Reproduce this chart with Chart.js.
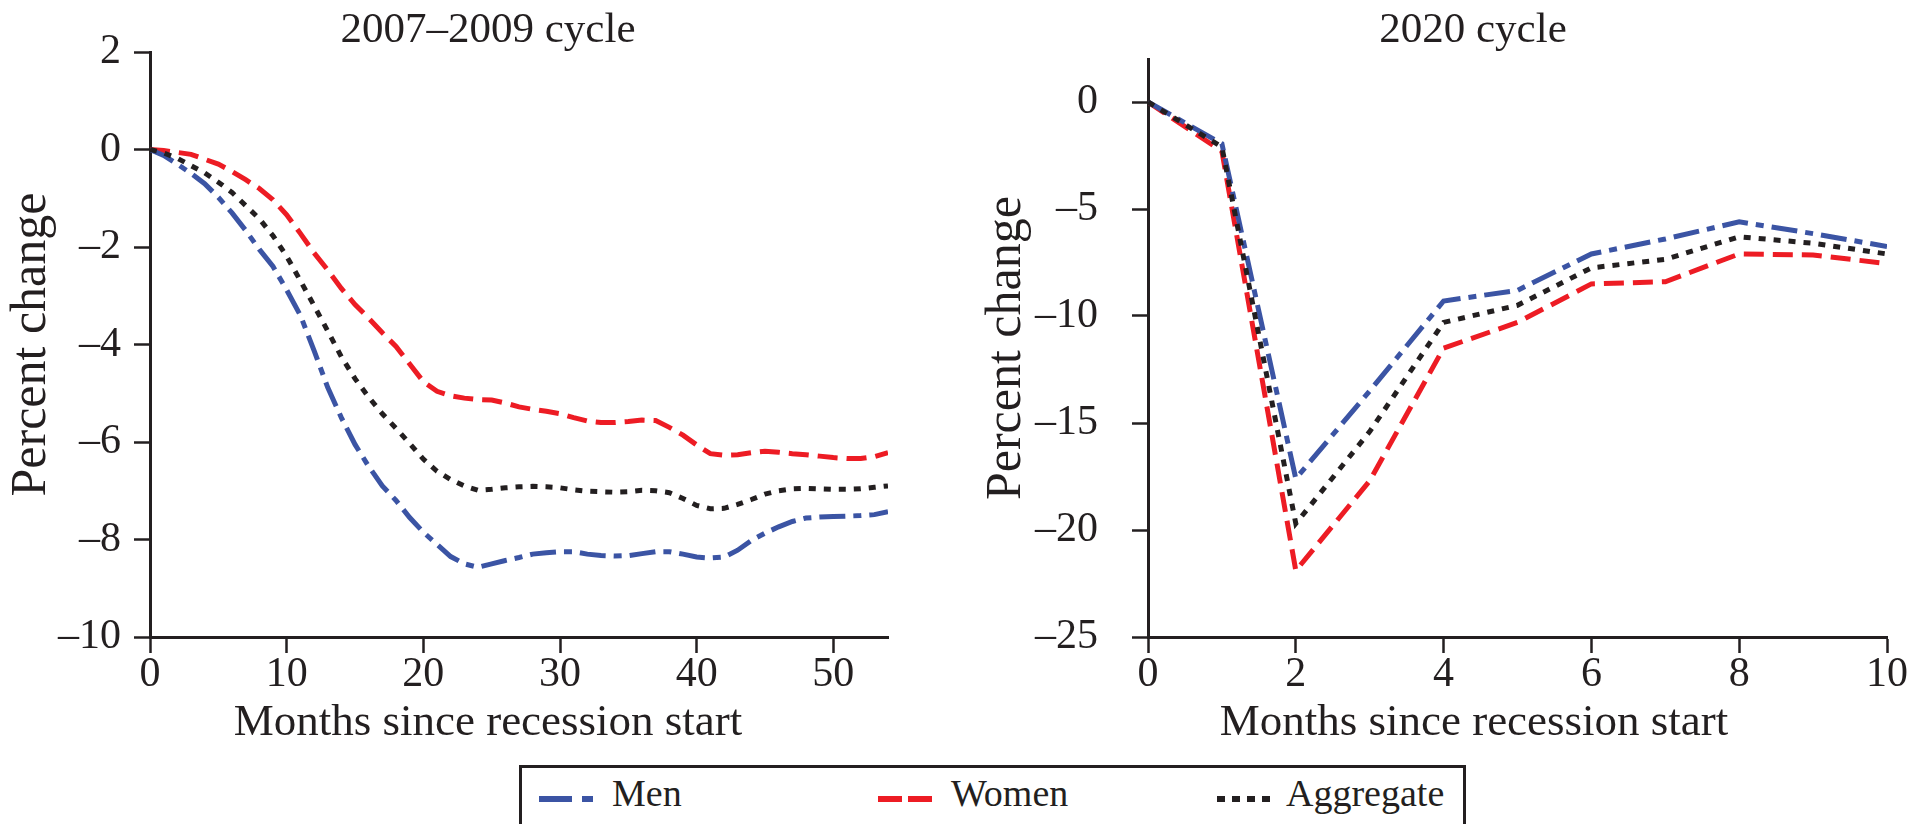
<!DOCTYPE html>
<html>
<head>
<meta charset="utf-8">
<title>Employment change since recession start</title>
<script src="https://cdn.jsdelivr.net/npm/chart.js@4.4.1/dist/chart.umd.min.js"></script>
<style>
  html, body { margin: 0; padding: 0; background: #fff; }
  body { width: 1917px; height: 824px; position: relative; overflow: hidden; }
  canvas { position: absolute; top: 0; }
  #chart-gr { left: 0; }
  #chart-covid { left: 960px; }
  #legend {
    position: absolute; left: 519px; top: 765px;
    width: 941px; height: 80px;
    border: 3px solid #231f20;
  }
  #legend svg { position: absolute; left: 0; top: 0; }
  #legend text { font-family: "Liberation Serif", serif; font-size: 38px; fill: #231f20; }
</style>
</head>
<body>
<canvas id="chart-gr" width="960" height="760"></canvas>
<canvas id="chart-covid" width="957" height="760"></canvas>
<div id="legend">
  <svg width="941" height="80">
    <line x1="17" y1="31" x2="73" y2="31" stroke="#3b54a4" stroke-width="6" stroke-dasharray="33 10 11 10"></line>
    <text x="90" y="38">Men</text>
    <line x1="356" y1="31" x2="410" y2="31" stroke="#ed1c24" stroke-width="6" stroke-dasharray="24 6"></line>
    <text x="429" y="38">Women</text>
    <line x1="695" y1="31" x2="748" y2="31" stroke="#231f20" stroke-width="6" stroke-dasharray="8 7"></line>
    <text x="764" y="38">Aggregate</text>
  </svg>
</div>
<script>
const colors = {
  men: "#3b54a4",
  women: "#ed1c24",
  aggregate: "#231f20",
  ink: "#231f20",
};

// 2007-2009 recession, monthly
const monthsGreatRecession = [
  0, 1, 2, 3, 4, 5, 6, 7, 8, 9, 10, 11, 12, 13, 14, 15, 16, 17, 18, 19,
  20, 21, 22, 23, 24, 25, 26, 27, 28, 29, 30, 31, 32, 33, 34, 35, 36, 37, 38, 39,
  40, 41, 42, 43, 44, 45, 46, 47, 48, 49, 50, 51, 52, 53, 54,
];
const menGreatRecession = [
  0, -0.12, -0.3, -0.49, -0.7, -0.98, -1.3, -1.66, -2.05, -2.4,
  -2.88, -3.4, -4.12, -4.88, -5.5, -6.05, -6.5, -6.9, -7.2, -7.55,
  -7.85, -8.1, -8.35, -8.5, -8.57, -8.5, -8.43, -8.37, -8.3, -8.27,
  -8.25, -8.25, -8.3, -8.33, -8.34, -8.33, -8.29, -8.25, -8.25, -8.3,
  -8.36, -8.38, -8.36, -8.22, -8.02, -7.87, -7.74, -7.63, -7.56, -7.54,
  -7.53, -7.52, -7.51, -7.49, -7.43,
];
const womenGreatRecession = [
  0, -0.02, -0.06, -0.1, -0.2, -0.3, -0.45, -0.62, -0.8, -1.03,
  -1.34, -1.72, -2.12, -2.47, -2.85, -3.18, -3.46, -3.76, -4.04, -4.4,
  -4.76, -4.96, -5.05, -5.1, -5.13, -5.14, -5.2, -5.28, -5.33, -5.37,
  -5.42, -5.5, -5.57, -5.6, -5.6, -5.58, -5.55, -5.56, -5.7, -5.86,
  -6.06, -6.24, -6.27, -6.26, -6.22, -6.19, -6.21, -6.24, -6.26, -6.29,
  -6.32, -6.34, -6.34, -6.3, -6.22,
];
const aggregateGreatRecession = [
  0, -0.07, -0.18, -0.33, -0.48, -0.67, -0.88, -1.15, -1.42, -1.77,
  -2.19, -2.69, -3.2, -3.72, -4.25, -4.7, -5.08, -5.42, -5.72, -6.03,
  -6.35, -6.6, -6.77, -6.9, -6.99, -6.97, -6.94, -6.92, -6.91, -6.92,
  -6.94, -6.98, -7.01, -7.02, -7.03, -7.02, -6.99, -7.0, -7.04, -7.16,
  -7.3, -7.37, -7.36, -7.28, -7.18, -7.07, -7.0, -6.96, -6.95, -6.96,
  -6.97, -6.97, -6.96, -6.93, -6.9,
];
const xTicksGreatRecession = [0, 10, 20, 30, 40, 50];
const yTicksGreatRecession = [-10, -8, -6, -4, -2, 0, 2];

// 2020 recession, monthly
const monthsCovid = [0, 1, 2, 3, 4, 5, 6, 7, 8, 9, 10];
const menCovid = [0, -1.95, -17.6, -13.5, -9.3, -8.8, -7.1, -6.4, -5.6, -6.15, -6.75];
const womenCovid = [0, -2.3, -21.9, -17.7, -11.5, -10.3, -8.5, -8.4, -7.1, -7.15, -7.55];
const aggregateCovid = [0, -2.1, -19.7, -15.4, -10.3, -9.5, -7.75, -7.35, -6.3, -6.6, -7.1];
const xTicksCovid = [0, 2, 4, 6, 8, 10];
const yTicksCovid = [-25, -20, -15, -10, -5, 0];

Chart.defaults.font.family = "'Liberation Serif', serif";
Chart.defaults.color = colors.ink;

function points(months, values) {
  return months.map((m, i) => ({ x: m, y: values[i] }));
}

function dashMinus(value) {
  return value < 0 ? "\u2013" + Math.abs(value) : String(value);
}

// chart title and x-axis caption, drawn as plain canvas text
const captions = {
  id: "captions",
  afterDraw(chart, args, opts) {
    const ctx = chart.ctx;
    ctx.save();
    ctx.fillStyle = colors.ink;
    ctx.textAlign = "center";
    ctx.textBaseline = "alphabetic";
    opts.items.forEach((item) => {
      ctx.font = item.size + "px 'Liberation Serif', serif";
      ctx.fillText(item.text, item.x, item.y);
    });
    ctx.restore();
  },
};

function buildDatasets(months, men, women, aggregate) {
  const chartData = [
    {
      label: "Aggregate",
      borderColor: colors.aggregate,
      backgroundColor: colors.aggregate,
      borderDash: [7, 8],
      data: points(months, aggregate),
    },
    {
      label: "Men",
      borderColor: colors.men,
      backgroundColor: colors.men,
      borderDash: [26, 8, 8, 8],
      data: points(months, men),
    },
    {
      label: "Women",
      borderColor: colors.women,
      backgroundColor: colors.women,
      borderDash: [20, 9],
      data: points(months, women),
    },
  ];
  return chartData.map((d) => ({
    ...d,
    borderWidth: 5,
    pointRadius: 0,
    tension: 0,
    fill: false,
  }));
}

function axisStyle(tickValues) {
  return {
    type: "linear",
    border: { display: true, color: colors.ink, width: 3 },
    grid: {
      drawOnChartArea: false,
      drawTicks: true,
      tickLength: 16,
      tickWidth: 2.5,
      tickColor: colors.ink,
    },
    afterBuildTicks: (axis) => {
      axis.ticks = tickValues.map((v) => ({ value: v }));
    },
  };
}

function renderChart(canvasId, setup) {
  const config = {
    type: "line",
    data: {
      datasets: buildDatasets(setup.months, setup.men, setup.women, setup.aggregate),
    },
    options: {
      responsive: false,
      animation: false,
      devicePixelRatio: 1,
      layout: { padding: { top: 52, right: setup.rightPad, bottom: 0, left: 0 } },
      plugins: {
        legend: { display: false },
        tooltip: { enabled: false },
        captions: {
          items: [
            { text: setup.title, x: setup.titleX, y: 42, size: 43 },
            { text: "Months since recession start", x: setup.captionX, y: 735, size: 45 },
          ],
        },
      },
      scales: {
        x: {
          ...axisStyle(setup.xTicks),
          min: 0,
          max: setup.xMax,
          afterFit: (scale) => {
            scale.height = 123;
          },
          ticks: { padding: -3, font: { size: 42 }, callback: dashMinus },
        },
        y: {
          ...axisStyle(setup.yTicks),
          min: setup.yMin,
          max: setup.yMax,
          afterFit: (scale) => {
            scale.width = setup.yWidth;
          },
          ticks: { padding: setup.yLabelPad, font: { size: 42 }, callback: dashMinus },
          title: {
            display: true,
            text: "Percent change",
            font: { size: 50 },
            padding: { top: setup.yTitlePad, bottom: 0 },
          },
        },
      },
    },
    plugins: [captions],
  };

  return new Chart(document.getElementById(canvasId), config);
}

renderChart("chart-gr", {
  title: "2007\u20132009 cycle",
  months: monthsGreatRecession,
  men: menGreatRecession,
  women: womenGreatRecession,
  aggregate: aggregateGreatRecession,
  xTicks: xTicksGreatRecession,
  yTicks: yTicksGreatRecession,
  xMax: 54,
  yMin: -10,
  yMax: 2,
  yWidth: 150,
  yLabelPad: 13,
  yTitlePad: 2,
  rightPad: 72,
  titleX: 488,
  captionX: 488,
});

renderChart("chart-covid", {
  title: "2020 cycle",
  months: monthsCovid,
  men: menCovid,
  women: womenCovid,
  aggregate: aggregateCovid,
  xTicks: xTicksCovid,
  yTicks: yTicksCovid,
  xMax: 10,
  yMin: -25,
  yMax: 2,
  yWidth: 188,
  yLabelPad: 34,
  yTitlePad: 17,
  rightPad: 30,
  titleX: 513,
  captionX: 514,
});
</script>
</body>
</html>
